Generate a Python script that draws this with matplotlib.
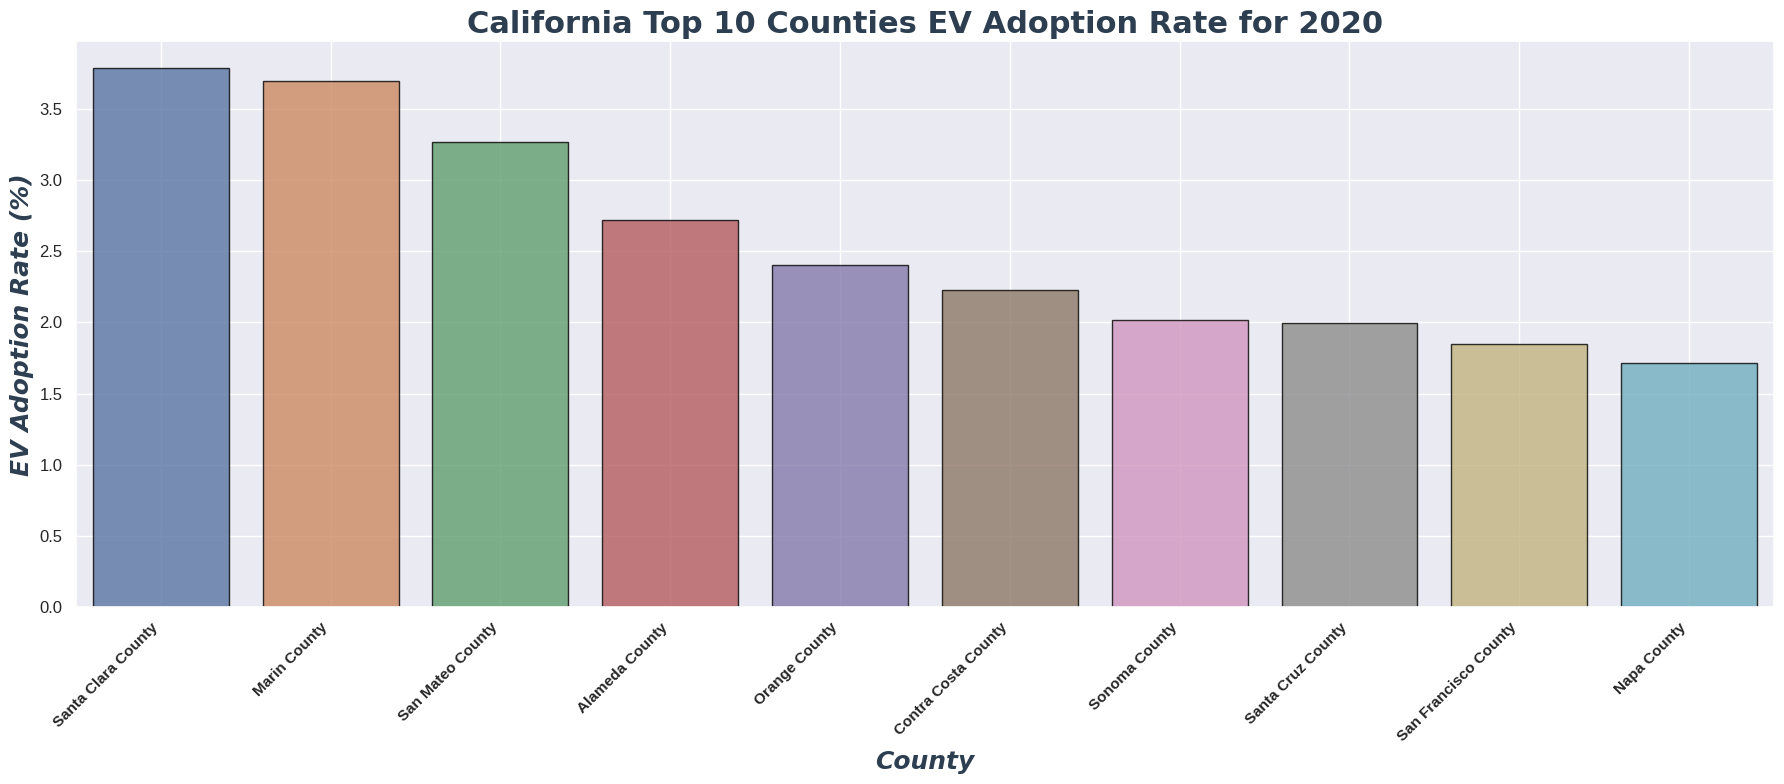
import matplotlib
matplotlib.use("Agg")
import matplotlib.pyplot as plt
import seaborn as sns

counties = ["Santa Clara County", "Marin County", "San Mateo County", "Alameda County",
            "Orange County", "Contra Costa County", "Sonoma County", "Santa Cruz County",
            "San Francisco County", "Napa County"]
adoption_rate = [3.786, 3.697, 3.265, 2.723, 2.406, 2.225, 2.019, 1.998, 1.850, 1.716]

sns.set_theme(style="darkgrid")
plt.rcParams['font.family'] = ['Liberation Sans', 'DejaVu Sans']

fig, ax = plt.subplots(figsize=(17.84, 7.84), dpi=100)
sns.barplot(x=counties, y=adoption_rate, hue=counties, palette="deep", legend=False,
            alpha=0.8, edgecolor="black", ax=ax)
ax.grid(True, axis="both")
ax.set_axisbelow(True)

title_color = "#2c3e50"
ax.set_title("California Top 10 Counties EV Adoption Rate for 2020", fontsize=22,
             fontweight="bold", color=title_color, family="DejaVu Sans")
ax.set_xlabel("County", fontsize=18, fontweight="bold", fontstyle="italic",
              color=title_color, family="DejaVu Sans")
ax.set_ylabel("EV Adoption Rate (%)", fontsize=18, fontweight="bold", fontstyle="italic",
              color=title_color, family="DejaVu Sans")
plt.xticks(rotation=45, ha="right", fontsize=11, fontweight="bold")
plt.yticks(fontsize=12)

plt.tight_layout(pad=0.6)
plt.savefig("out.png")
